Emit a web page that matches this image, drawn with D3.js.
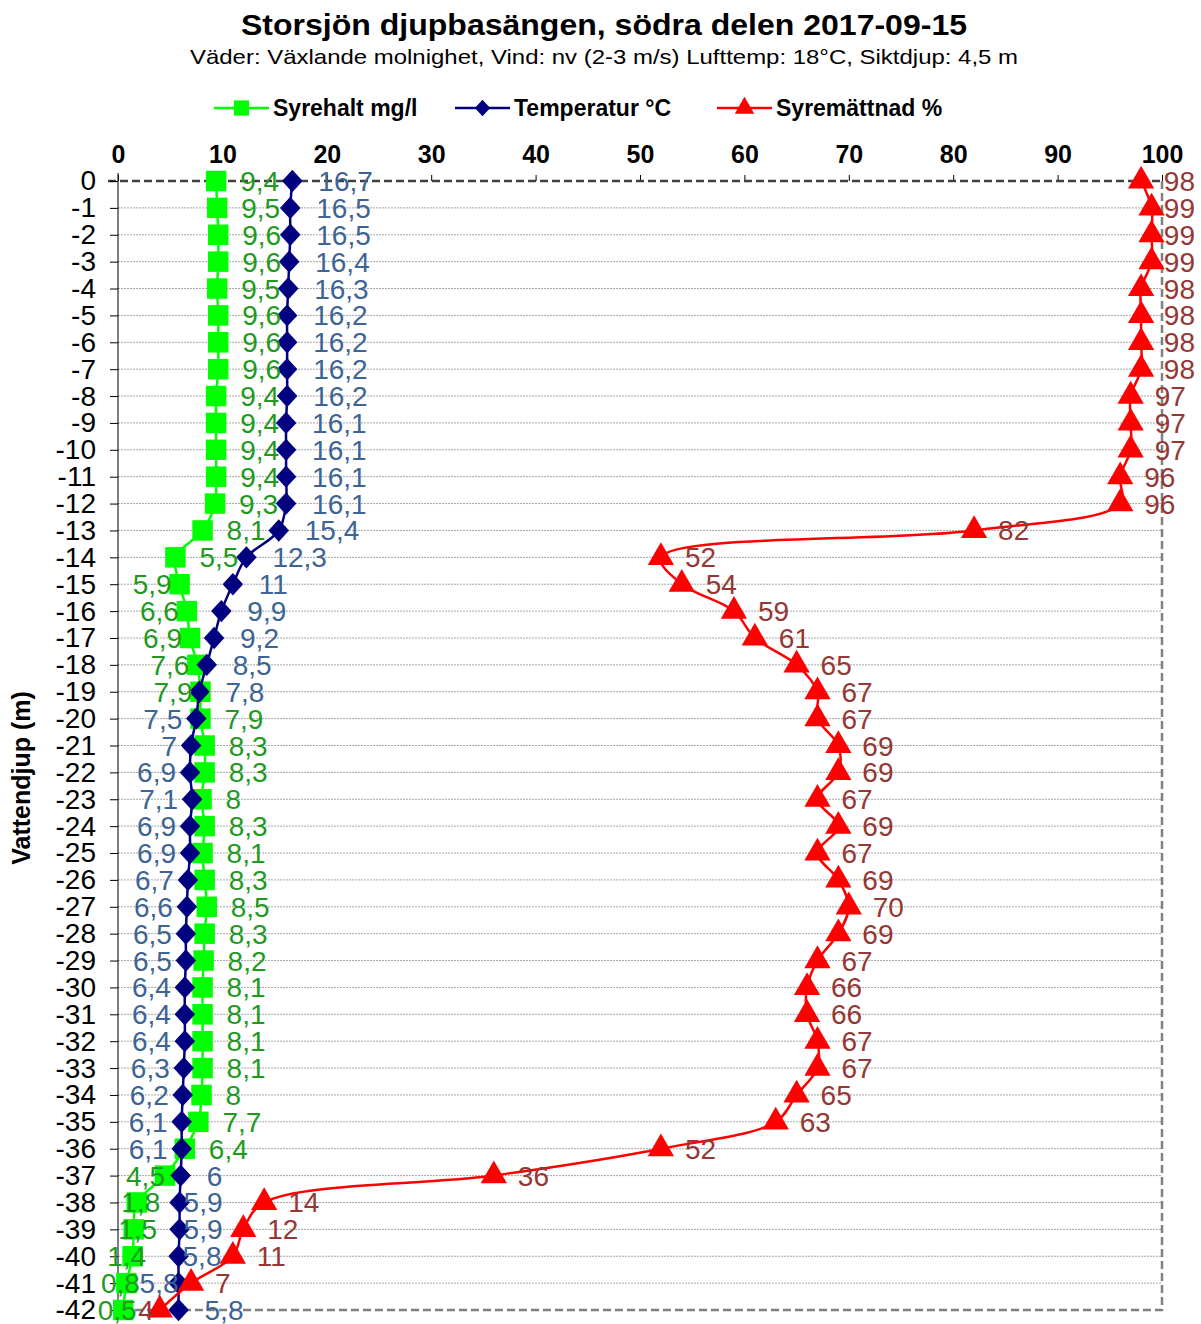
<!DOCTYPE html>
<html>
<head>
<meta charset="utf-8">
<script src="https://cdn.jsdelivr.net/npm/d3@7"></script>
<style>
  body { margin: 0; background: #fff; }
  svg { font-family: "Liberation Sans", Arial, sans-serif; }
</style>
</head>
<body>
<svg id="chart" width="1201" height="1324"></svg>
<script>
// depth in metres (negative downwards)
const depths = [0, -1, -2, -3, -4, -5, -6, -7, -8, -9, -10, -11, -12, -13, -14, -15, -16, -17, -18, -19, -20,
  -21, -22, -23, -24, -25, -26, -27, -28, -29, -30, -31, -32, -33, -34, -35, -36, -37, -38, -39, -40, -41, -42];

// Syrehalt mg/l
const oxygen = [9.4, 9.5, 9.6, 9.6, 9.5, 9.6, 9.6, 9.6, 9.4, 9.4, 9.4, 9.4, 9.3, 8.1, 5.5, 5.9, 6.6, 6.9, 7.6, 7.9, 7.9,
  8.3, 8.3, 8, 8.3, 8.1, 8.3, 8.5, 8.3, 8.2, 8.1, 8.1, 8.1, 8.1, 8, 7.7, 6.4, 4.5, 1.8, 1.5, 1.4, 0.8, 0.5];

// Temperatur °C
const temperature = [16.7, 16.5, 16.5, 16.4, 16.3, 16.2, 16.2, 16.2, 16.2, 16.1, 16.1, 16.1, 16.1, 15.4, 12.3, 11, 9.9, 9.2, 8.5, 7.8, 7.5,
  7, 6.9, 7.1, 6.9, 6.9, 6.7, 6.6, 6.5, 6.5, 6.4, 6.4, 6.4, 6.3, 6.2, 6.1, 6.1, 6, 5.9, 5.9, 5.8, 5.8, 5.8];

// Syremättnad %
const saturation = [98, 99, 99, 99, 98, 98, 98, 98, 97, 97, 97, 96, 96, 82, 52, 54, 59, 61, 65, 67, 67,
  69, 69, 67, 69, 67, 69, 70, 69, 67, 66, 66, 67, 67, 65, 63, 52, 36, 14, 12, 11, 7, 4];

const xTicks = [0, 10, 20, 30, 40, 50, 60, 70, 80, 90, 100];
const yTicks = depths;

const seriesNames = ['Syrehalt mg/l', 'Temperatur °C', 'Syremättnad %'];

const svg = d3.select('#chart');
const W = 1201;

const x = d3.scaleLinear().domain([0, 100]).range([118, 1162]);
const y = d3.scaleLinear().domain([0, -42]).range([181, 1310]);

const fmt = v => String(v).replace('.', ',');

// title
svg.append('text')
  .attr('x', 604).attr('y', 35)
  .attr('text-anchor', 'middle')
  .attr('font-size', 30).attr('font-weight', 'bold')
  .attr('textLength', 726).attr('lengthAdjust', 'spacingAndGlyphs')
  .text('Storsjön djupbasängen, södra delen 2017-09-15');
svg.append('text')
  .attr('x', 604).attr('y', 64)
  .attr('text-anchor', 'middle')
  .attr('font-size', 21)
  .attr('textLength', 828).attr('lengthAdjust', 'spacingAndGlyphs')
  .text('Väder: Växlande molnighet, Vind: nv (2-3 m/s) Lufttemp: 18°C, Siktdjup: 4,5 m');

// horizontal grid
svg.append('g')
  .selectAll('line')
  .data(yTicks.filter(d => d !== 0 && d !== -42))
  .join('line')
  .attr('x1', x(0)).attr('x2', x(100))
  .attr('y1', d => y(d)).attr('y2', d => y(d))
  .attr('stroke', '#a6a6a6').attr('stroke-width', 1)
  .attr('stroke-dasharray', '2,1');

// plot border (right and bottom dashed grey)
svg.append('path')
  .attr('d', `M${x(100)},${y(0)}V${y(-42)}H${x(0)}`)
  .attr('fill', 'none')
  .attr('stroke', '#808080').attr('stroke-width', 2.5)
  .attr('stroke-dasharray', '8,4');

// top axis
const xAxis = d3.axisTop(x).tickValues(xTicks).tickSize(6).tickPadding(12).tickFormat(d => d);
const gx = svg.append('g').attr('transform', `translate(0,${y(0)})`).call(xAxis);
gx.select('.domain').remove();
gx.selectAll('.tick line').attr('stroke', '#000');
gx.selectAll('.tick text')
  .attr('font-size', 25).attr('font-weight', 'bold')
  .attr('font-family', '"Liberation Sans", Arial, sans-serif')
  .attr('fill', '#000');
svg.append('line')
  .attr('x1', x(0) - 10).attr('x2', x(100))
  .attr('y1', y(0)).attr('y2', y(0))
  .attr('stroke', '#404040').attr('stroke-width', 2.5)
  .attr('stroke-dasharray', '8,4');

// left axis
const yAxis = d3.axisLeft(y).tickValues(yTicks).tickSize(8).tickPadding(14).tickFormat(d => d);
const gy = svg.append('g').attr('transform', `translate(${x(0)},0)`).call(yAxis);
gy.select('.domain').attr('d', `M0,${y(0) - 8}V${y(-42)}`).attr('stroke', '#000');
gy.selectAll('.tick line').attr('stroke', '#000');
gy.selectAll('.tick text')
  .attr('font-size', 28)
  .attr('font-family', '"Liberation Sans", Arial, sans-serif')
  .attr('fill', '#000');

svg.append('text')
  .attr('transform', `translate(30,778) rotate(-90)`)
  .attr('text-anchor', 'middle')
  .attr('font-size', 25).attr('font-weight', 'bold')
  .text('Vattendjup (m)');

// series
const rows = depths.map((d, i) => ({ depth: d, o2: oxygen[i], temp: temperature[i], sat: saturation[i] }));

// rhombus marker like the spreadsheet one
const rhombus = {
  draw(context, size) {
    const r = Math.sqrt(size / 2);
    context.moveTo(0, -r);
    context.lineTo(r * 0.92, 0);
    context.lineTo(0, r);
    context.lineTo(-r * 0.92, 0);
    context.closePath();
  }
};

const series = [
  { key: 'o2', name: seriesNames[0], color: '#00ff00', labelColor: '#1f9a1f', marker: d3.symbolSquare, size: 420 },
  { key: 'temp', name: seriesNames[1], color: '#000080', labelColor: '#3d6494', marker: rhombus, size: 250 },
  { key: 'sat', name: seriesNames[2], color: '#ff0000', labelColor: '#953735', marker: d3.symbolTriangle, size: 300 }
];

const line = key => d3.line()
  .x(r => x(r[key]))
  .y(r => y(r.depth))
  .curve(d3.curveCatmullRom.alpha(0.5));

const plot = svg.append('g');
series.forEach(s => {
  const g = plot.append('g');
  g.append('path')
    .datum(rows)
    .attr('d', line(s.key))
    .attr('fill', 'none')
    .attr('stroke', s.color).attr('stroke-width', 2.5);
  g.selectAll('path.m')
    .data(rows)
    .join('path')
    .attr('class', 'm')
    .attr('transform', r => `translate(${x(r[s.key])},${y(r.depth)})`)
    .attr('d', d3.symbol().type(s.marker).size(s.size))
    .attr('fill', s.color);
});

// label placement: returns [dx, anchor]
function labelPos(key, depth) {
  const d = -depth;
  if (key === 'o2') {
    if (d >= 15 && d <= 19) return [-8, 'end'];
    if (d === 37) return [0, 'end'];
    if (d >= 38 && d <= 39) return [4, 'middle'];
    if (d >= 40) return [-6, 'middle'];
    return [24, 'start'];
  }
  if (key === 'temp') {
    if (d >= 20 && d <= 36) return [-14, 'end'];
    if (d === 41) return [0, 'end'];
    if (d >= 38 && d <= 40) return [4, 'start'];
    return [26, 'start'];
  }
  if (d === 42) return [-6, 'end'];
  return [24, 'start'];
}

const labels = svg.append('g').attr('font-size', 28);
series.forEach(s => {
  labels.selectAll(null)
    .data(rows)
    .join('text')
    .attr('x', r => x(r[s.key]) + labelPos(s.key, r.depth)[0])
    .attr('y', r => y(r.depth) + 10)
    .attr('text-anchor', r => labelPos(s.key, r.depth)[1])
    .attr('fill', s.labelColor)
    .text(r => fmt(r[s.key]))
    .each(function () {
      // keep labels inside the chart area
      const t = d3.select(this);
      const len = this.getComputedTextLength();
      const x0 = +t.attr('x');
      if (t.attr('text-anchor') === 'start' && x0 + len > W - 6) t.attr('x', W - 6 - len);
    });
});

// legend
const legendX = [214, 455, 717];
const legend = svg.append('g').attr('transform', 'translate(0,108)');
series.forEach((s, i) => {
  const g = legend.append('g').attr('transform', `translate(${legendX[i]},0)`);
  g.append('line').attr('x1', 0).attr('x2', 55).attr('stroke', s.color).attr('stroke-width', 2.5);
  g.append('path').attr('transform', 'translate(27.5,0)')
    .attr('d', d3.symbol().type(s.marker).size(s.size * 0.55)).attr('fill', s.color);
  g.append('text').attr('x', 59).attr('y', 8)
    .attr('font-size', 23).attr('font-weight', 'bold')
    .text(s.name);
});
</script>
</body>
</html>
